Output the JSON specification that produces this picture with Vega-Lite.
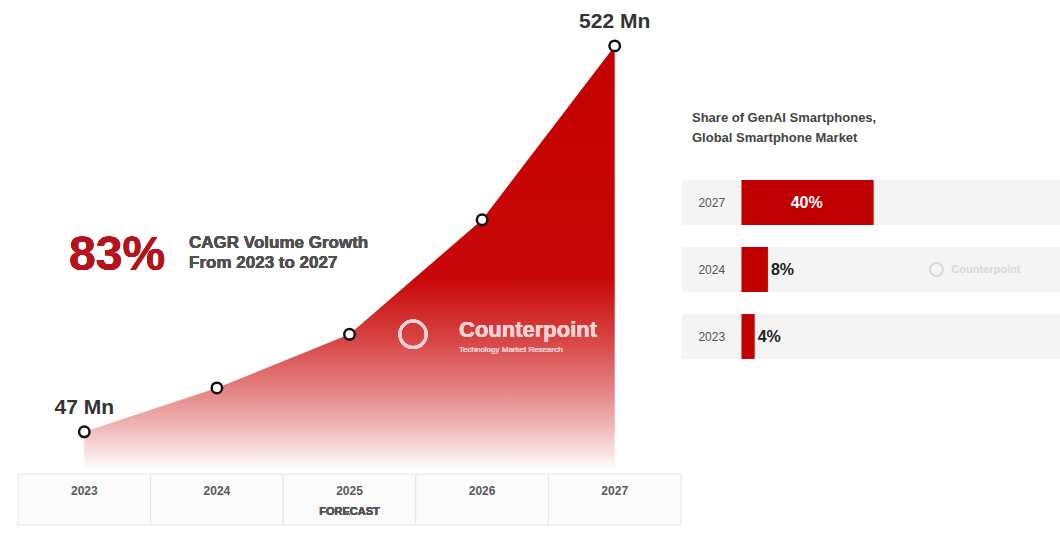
{
  "$schema": "https://vega.github.io/schema/vega-lite/v6.json",
  "background": "white",
  "padding": {"left": 17, "top": 10, "right": 0, "bottom": 0},
  "config": {"view": {"stroke": null}, "font": "Liberation Sans"},
  "datasets": {
    "volume": [
      {"year": 2023, "volume": 47},
      {"year": 2024, "volume": 101},
      {"year": 2025, "volume": 167},
      {"year": 2026, "volume": 308},
      {"year": 2027, "volume": 522}
    ],
    "share": [
      {"year": 2027, "share": 0.40},
      {"year": 2024, "share": 0.08},
      {"year": 2023, "share": 0.04}
    ]
  },
  "spacing": 0,
  "hconcat": [
    {
      "spacing": 3,
      "vconcat": [
        {
          "width": 663,
          "height": 455,
          "data": {"name": "volume"},
          "encoding": {
            "x": {"field": "year", "type": "quantitative", "scale": {"domain": [2022.5, 2027.5], "nice": false, "zero": false}, "axis": null},
            "y": {"field": "volume", "type": "quantitative", "scale": {"domain": [0, 560], "nice": false}, "axis": null}
          },
          "layer": [
            {
              "mark": {
                "type": "area",
                "fill": {
                  "gradient": "linear", "x1": 0, "y1": 0, "x2": 0, "y2": 1,
                  "stops": [
                    {"offset": 0, "color": "#c40000"},
                    {"offset": 0.55, "color": "#c80808"},
                    {"offset": 0.7, "color": "#d84848"},
                    {"offset": 0.8, "color": "#e27c7c"},
                    {"offset": 0.9, "color": "#f0b8b8"},
                    {"offset": 1, "color": "#ffffff"}
                  ]
                }
              }
            },
            {
              "mark": {"type": "point", "shape": "circle", "filled": true, "fill": "white", "stroke": "#111111", "strokeWidth": 2.5, "size": 110, "opacity": 1}
            },
            {
              "transform": [{"filter": "datum.year == 2023 || datum.year == 2027"}],
              "mark": {"type": "text", "text": {"expr": "datum.volume + ' Mn'"}, "dy": -24, "fontSize": 21, "fontWeight": "bold", "color": "#333333"}
            },
            {
              "mark": {"type": "text", "text": "83%", "align": "left", "baseline": "middle", "fontSize": 48, "fontWeight": "bold", "color": "#b5121b"},
              "encoding": {"x": {"datum": 2022.885}, "y": {"datum": 264}}
            },
            {
              "mark": {"type": "text", "text": ["CAGR Volume Growth", "From 2023 to 2027"], "align": "left", "baseline": "middle", "lineHeight": 20, "fontSize": 17, "fontWeight": "bold", "color": "#505050"},
              "encoding": {"x": {"datum": 2023.79}, "y": {"datum": 280}}
            },
            {
              "mark": {"type": "text", "text": "Counterpoint", "align": "left", "baseline": "middle", "fontSize": 22, "fontWeight": "bold", "color": "#f7d2d2"},
              "encoding": {"x": {"datum": 2025.826}, "y": {"datum": 172}}
            },
            {
              "mark": {"type": "text", "text": "Technology Market Research", "align": "left", "baseline": "middle", "fontSize": 8, "color": "#f0c0c0"},
              "encoding": {"x": {"datum": 2025.826}, "y": {"datum": 148}}
            },
            {
              "mark": {"type": "point", "shape": "circle", "filled": false, "stroke": "#f7d2d2", "strokeWidth": 3, "size": 700, "opacity": 1},
              "encoding": {"x": {"datum": 2025.479}, "y": {"datum": 167}}
            }
          ]
        },
        {
          "width": 663,
          "height": 51,
          "data": {"name": "volume"},
          "encoding": {
            "x": {"field": "year", "type": "ordinal", "scale": {"paddingInner": 0, "paddingOuter": 0}, "axis": null}
          },
          "layer": [
            {
              "mark": {"type": "rect", "fill": "#fbfbfb", "stroke": "#e6e6e6", "strokeWidth": 1},
              "encoding": {
                "y": {"datum": 0, "type": "quantitative", "scale": {"domain": [0, 1], "nice": false}, "axis": null},
                "y2": {"datum": 1}
              }
            },
            {
              "mark": {"type": "text", "fontSize": 12, "fontWeight": "bold", "color": "#5a5a5a", "baseline": "middle"},
              "encoding": {
                "text": {"field": "year", "type": "ordinal"},
                "y": {"datum": 0.66, "type": "quantitative"}
              }
            },
            {
              "mark": {"type": "text", "text": "FORECAST", "fontSize": 11, "fontWeight": "bold", "color": "#555555", "baseline": "middle"},
              "encoding": {
                "x": {"datum": 2025},
                "y": {"datum": 0.26, "type": "quantitative"}
              }
            }
          ]
        }
      ]
    },
    {
      "spacing": 0,
      "vconcat": [
        {
          "width": 380,
          "height": 97,
          "data": {"values": []},
          "mark": "text"
        },
        {
          "width": 380,
          "height": 201,
          "data": {"name": "share"},
          "title": {
            "text": ["Share of GenAI Smartphones,", "Global Smartphone Market"],
            "anchor": "start", "fontSize": 13, "fontWeight": "bold", "color": "#444444",
            "lineHeight": 20, "offset": 24, "dx": 10
          },
          "encoding": {
            "y": {"field": "year", "type": "ordinal", "sort": "descending", "scale": {"paddingInner": 0.33, "paddingOuter": 0.165}, "axis": null}
          },
          "layer": [
            {
              "mark": {"type": "bar", "color": "#f4f4f4"},
              "encoding": {
                "x": {"datum": -0.18, "type": "quantitative", "scale": {"domain": [-0.18, 0.97], "nice": false, "zero": false}, "axis": null},
                "x2": {"datum": 0.97}
              }
            },
            {
              "mark": {"type": "bar", "color": "#c00000"},
              "encoding": {
                "x": {"field": "share", "type": "quantitative"},
                "x2": {"datum": 0}
              }
            },
            {
              "mark": {"type": "text", "fontSize": 12, "color": "#555555", "baseline": "middle"},
              "encoding": {
                "x": {"datum": -0.09},
                "text": {"field": "year", "type": "ordinal"}
              }
            },
            {
              "transform": [{"filter": "datum.share >= 0.2"}],
              "mark": {"type": "text", "fontSize": 16, "fontWeight": "bold", "color": "white", "baseline": "middle", "align": "center", "dx": -67},
              "encoding": {
                "x": {"field": "share", "type": "quantitative"},
                "text": {"field": "share", "type": "quantitative", "format": ".0%"}
              }
            },
            {
              "transform": [{"filter": "datum.share < 0.2"}],
              "mark": {"type": "text", "fontSize": 16, "fontWeight": "bold", "color": "#222222", "baseline": "middle", "align": "left", "dx": 3},
              "encoding": {
                "x": {"field": "share", "type": "quantitative"},
                "text": {"field": "share", "type": "quantitative", "format": ".0%"}
              }
            },
            {
              "transform": [{"filter": "datum.year == 2024"}],
              "mark": {"type": "text", "text": "Counterpoint", "fontSize": 11, "fontWeight": "bold", "color": "#d8d8d8", "baseline": "middle", "align": "left"},
              "encoding": {"x": {"datum": 0.635}}
            },
            {
              "transform": [{"filter": "datum.year == 2024"}],
              "mark": {"type": "point", "shape": "circle", "filled": false, "stroke": "#d8d8d8", "strokeWidth": 2, "size": 170, "opacity": 1},
              "encoding": {"x": {"datum": 0.59}}
            }
          ]
        }
      ]
    }
  ]
}
